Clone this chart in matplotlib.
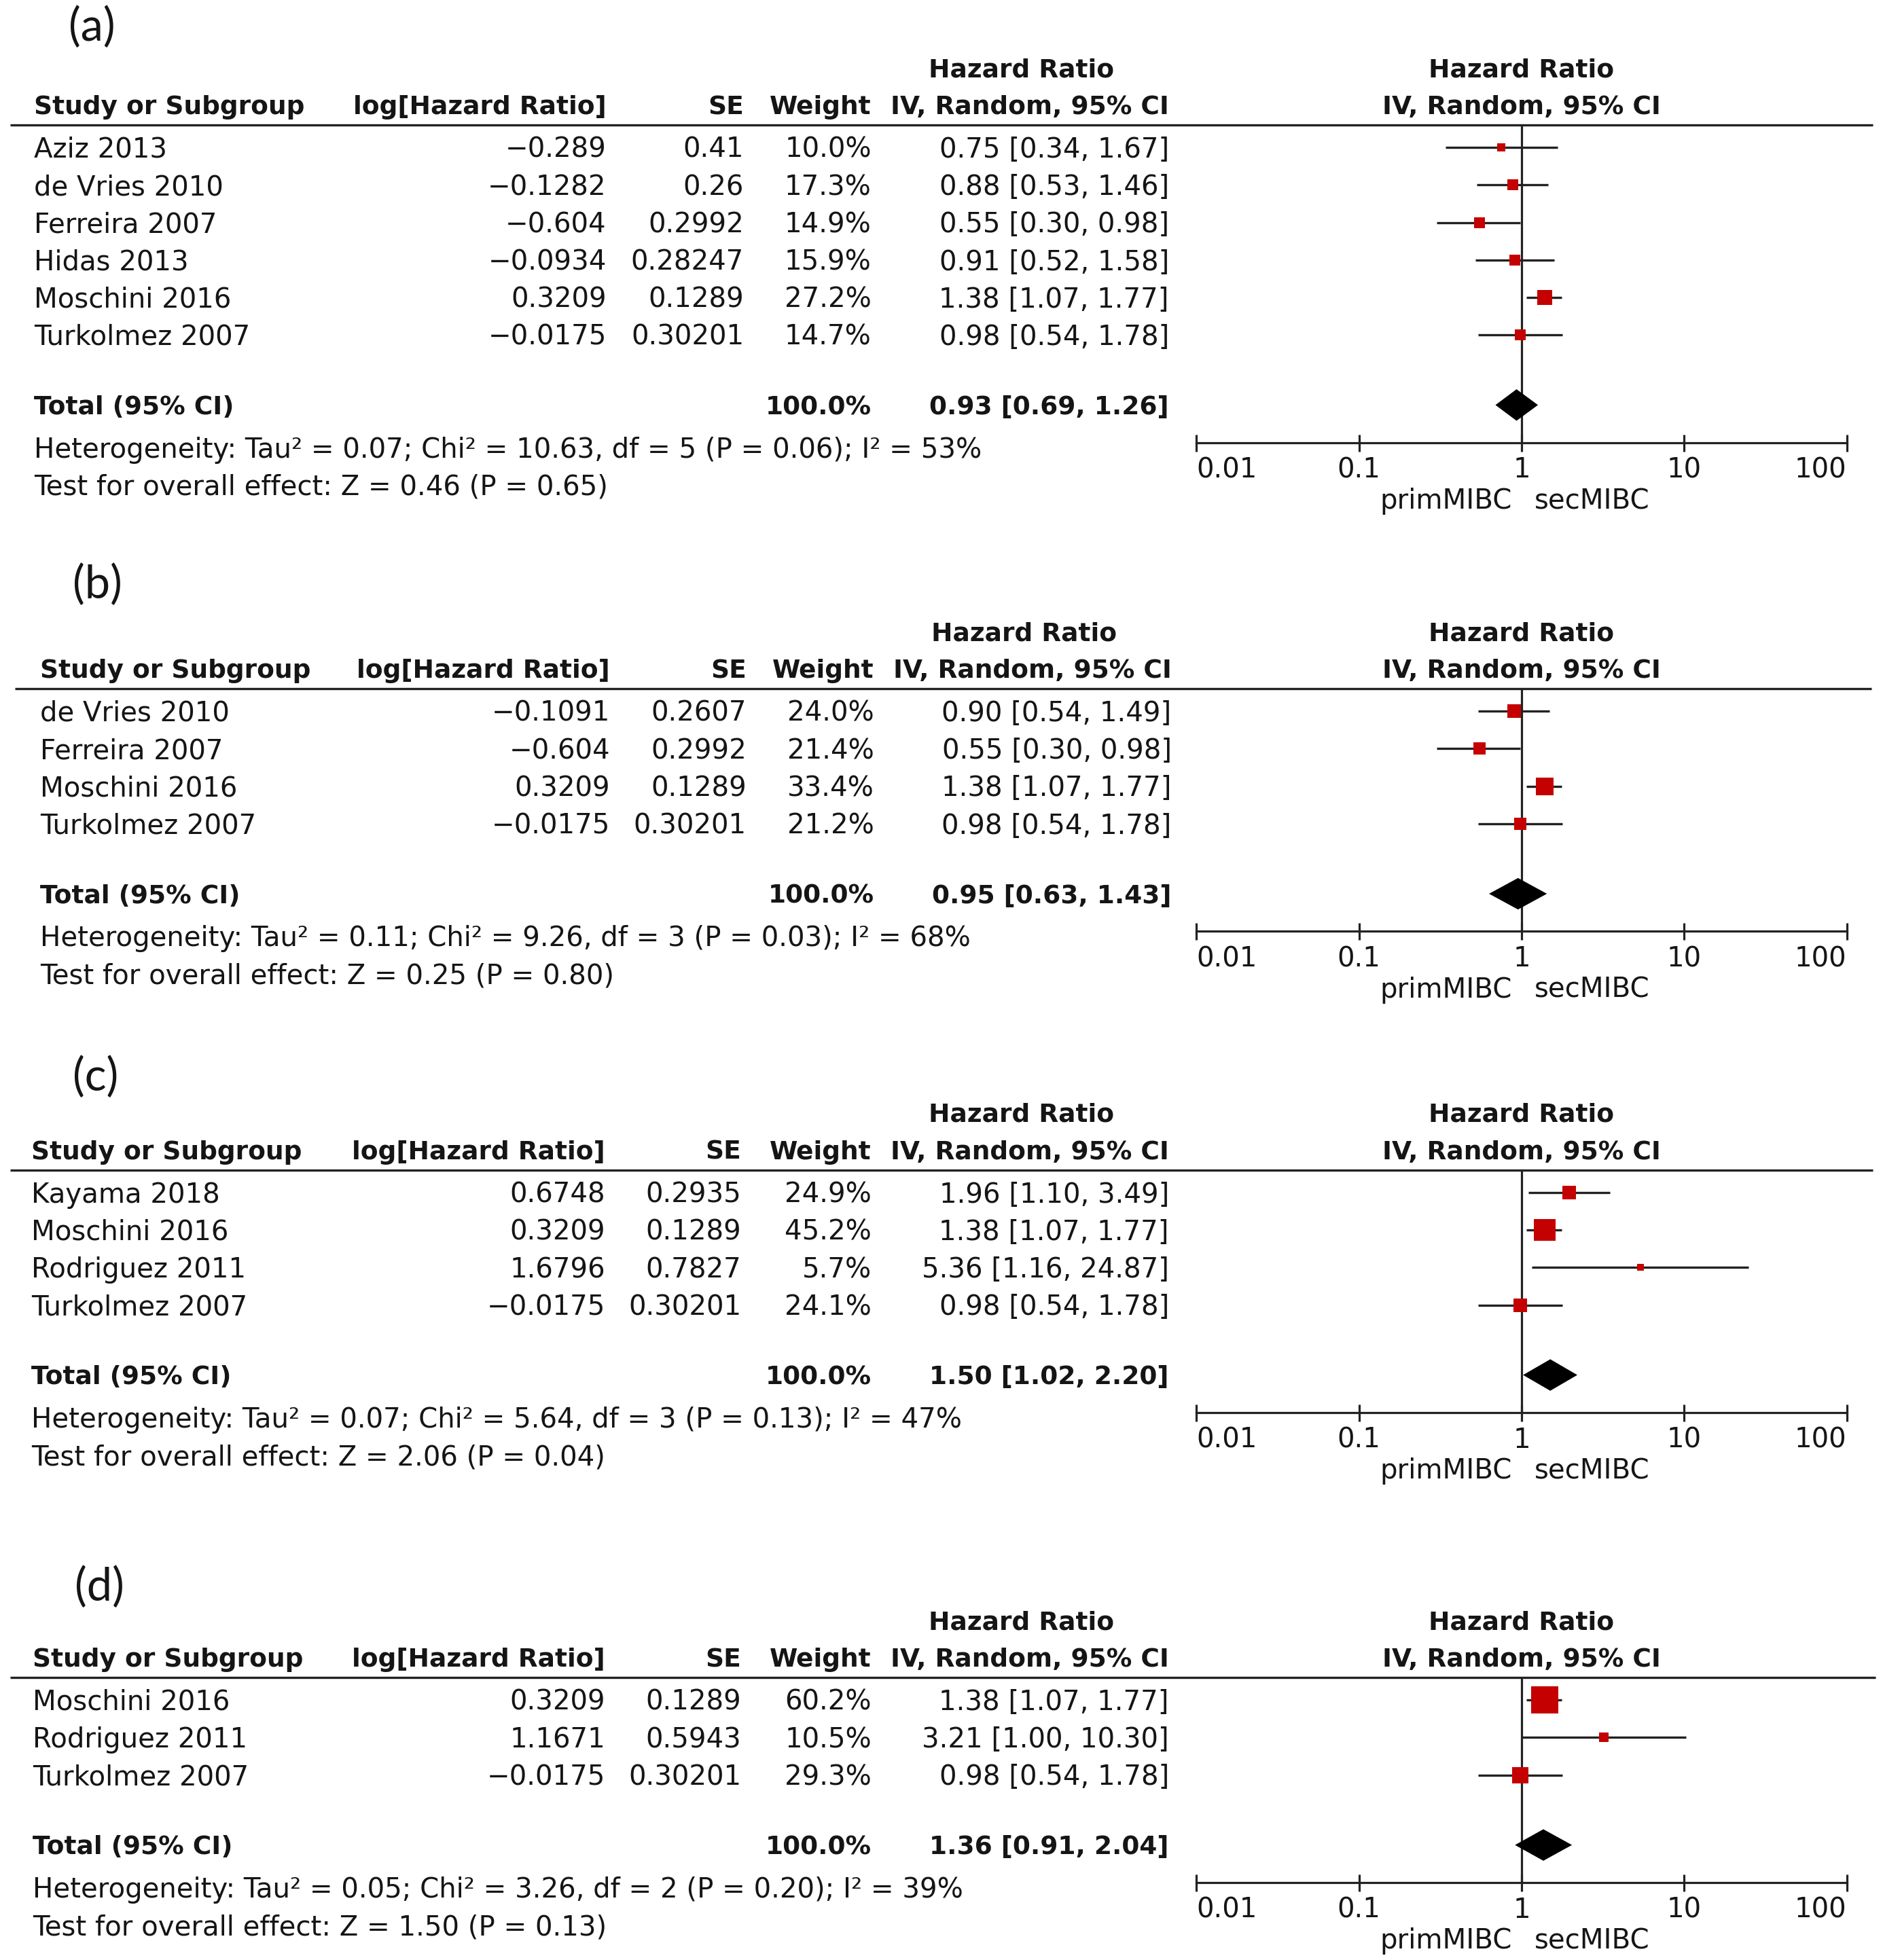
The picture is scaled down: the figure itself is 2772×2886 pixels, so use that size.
import numpy as np
import matplotlib
matplotlib.use("Agg")
import matplotlib.pyplot as plt

plt.rcParams['font.family'] = ['DejaVu Sans']

# ---------------- data ----------------
# (a)
studies_a = ['Aziz 2013', 'de Vries 2010', 'Ferreira 2007', 'Hidas 2013', 'Moschini 2016', 'Turkolmez 2007']
loghr_a = ['−0.289', '−0.1282', '−0.604', '−0.0934', '0.3209', '−0.0175']
se_a = ['0.41', '0.26', '0.2992', '0.28247', '0.1289', '0.30201']
weight_a = [10.0, 17.3, 14.9, 15.9, 27.2, 14.7]
hr_a = [0.75, 0.88, 0.55, 0.91, 1.38, 0.98]
lo_a = [0.34, 0.53, 0.30, 0.52, 1.07, 0.54]
hi_a = [1.67, 1.46, 0.98, 1.58, 1.77, 1.78]
total_a = [0.93, 0.69, 1.26]
het_a = 'Heterogeneity: Tau² = 0.07; Chi² = 10.63, df = 5 (P = 0.06); I² = 53%'
test_a = 'Test for overall effect: Z = 0.46 (P = 0.65)'

# (b)
studies_b = ['de Vries 2010', 'Ferreira 2007', 'Moschini 2016', 'Turkolmez 2007']
loghr_b = ['−0.1091', '−0.604', '0.3209', '−0.0175']
se_b = ['0.2607', '0.2992', '0.1289', '0.30201']
weight_b = [24.0, 21.4, 33.4, 21.2]
hr_b = [0.90, 0.55, 1.38, 0.98]
lo_b = [0.54, 0.30, 1.07, 0.54]
hi_b = [1.49, 0.98, 1.77, 1.78]
total_b = [0.95, 0.63, 1.43]
het_b = 'Heterogeneity: Tau² = 0.11; Chi² = 9.26, df = 3 (P = 0.03); I² = 68%'
test_b = 'Test for overall effect: Z = 0.25 (P = 0.80)'

# (c)
studies_c = ['Kayama 2018', 'Moschini 2016', 'Rodriguez 2011', 'Turkolmez 2007']
loghr_c = ['0.6748', '0.3209', '1.6796', '−0.0175']
se_c = ['0.2935', '0.1289', '0.7827', '0.30201']
weight_c = [24.9, 45.2, 5.7, 24.1]
hr_c = [1.96, 1.38, 5.36, 0.98]
lo_c = [1.10, 1.07, 1.16, 0.54]
hi_c = [3.49, 1.77, 24.87, 1.78]
total_c = [1.50, 1.02, 2.20]
het_c = 'Heterogeneity: Tau² = 0.07; Chi² = 5.64, df = 3 (P = 0.13); I² = 47%'
test_c = 'Test for overall effect: Z = 2.06 (P = 0.04)'

# (d)
studies_d = ['Moschini 2016', 'Rodriguez 2011', 'Turkolmez 2007']
loghr_d = ['0.3209', '1.1671', '−0.0175']
se_d = ['0.1289', '0.5943', '0.30201']
weight_d = [60.2, 10.5, 29.3]
hr_d = [1.38, 3.21, 0.98]
lo_d = [1.07, 1.00, 0.54]
hi_d = [1.77, 10.30, 1.78]
total_d = [1.36, 0.91, 2.04]
het_d = 'Heterogeneity: Tau² = 0.05; Chi² = 3.26, df = 2 (P = 0.20); I² = 39%'
test_d = 'Test for overall effect: Z = 1.50 (P = 0.13)'

total_weight = '100.0%'
tick_vals = [0.01, 0.1, 1, 10, 100]
tick_labels = ['0.01', '0.1', '1', '10', '100']

panels = [
    ('(a)', studies_a, loghr_a, se_a, weight_a, hr_a, lo_a, hi_a, total_a, het_a, test_a),
    ('(b)', studies_b, loghr_b, se_b, weight_b, hr_b, lo_b, hi_b, total_b, het_b, test_b),
    ('(c)', studies_c, loghr_c, se_c, weight_c, hr_c, lo_c, hi_c, total_c, het_c, test_c),
    ('(d)', studies_d, loghr_d, se_d, weight_d, hr_d, lo_d, hi_d, total_d, het_d, test_d),
]

# ---------------- layout (reference pixel grid) ----------------
W, H = 1506, 1568
# label x, label y, header line y, line x0, line x1, study x, logHR right, SE right, weight right, CI right
layout = [
    (57, 22, 100, 8, 1498, 27, 485, 595, 697, 935),
    (60, 468, 551, 12, 1497, 32, 488, 597, 699, 937),
    (60, 862, 936, 8, 1498, 25, 484, 593, 697, 935),
    (62, 1270, 1342, 8, 1500, 26, 484, 593, 697, 935),
]
plot_x0, plot_x1 = 957, 1477
ROW = 30
DY = 2
FS = 29
FSB = 27
TXT = '#151515'
RED = '#c40000'
PX2PT = 1.84 * 0.72

fig = plt.figure(figsize=(27.72, 28.86), dpi=100)
bg = fig.add_axes([0, 0, 1, 1])
bg.set_xlim(0, W)
bg.set_ylim(H, 0)
bg.axis('off')

for (tag, studies, loghr, se, weight, hr, lo, hi, total, het, test), lay in zip(panels, layout):
    lx, ly, line_y, x0, x1, sx, lr, ser, wr, cir = lay
    n = len(studies)
    row_px = [line_y + 18 + ROW * i + DY for i in range(n)]
    total_px = row_px[-1] + 56
    axis_px = line_y + 18 + ROW * (n - 1) + 56 + ROW

    # panel tag
    bg.text(lx - 2, ly, tag, fontsize=48, family='Lato', ha='left', va='center', color=TXT)

    # headers
    h1 = line_y - 46 + DY
    bg.text(cir - 118, h1, 'Hazard Ratio', fontsize=FSB, fontweight='bold', ha='center', va='center', color=TXT)
    bg.text((plot_x0 + plot_x1) / 2, h1, 'Hazard Ratio', fontsize=FSB, fontweight='bold', ha='center', va='center', color=TXT)
    hy = line_y - 16 + DY
    bg.text(sx, hy, 'Study or Subgroup', fontsize=FSB, fontweight='bold', ha='left', va='center', color=TXT)
    bg.text(lr, hy, 'log[Hazard Ratio]', fontsize=FSB, fontweight='bold', ha='right', va='center', color=TXT)
    bg.text(ser, hy, 'SE', fontsize=FSB, fontweight='bold', ha='right', va='center', color=TXT)
    bg.text(wr, hy, 'Weight', fontsize=FSB, fontweight='bold', ha='right', va='center', color=TXT)
    bg.text(cir, hy, 'IV, Random, 95% CI', fontsize=FSB, fontweight='bold', ha='right', va='center', color=TXT)
    bg.text((plot_x0 + plot_x1) / 2, hy, 'IV, Random, 95% CI', fontsize=FSB, fontweight='bold', ha='center', va='center', color=TXT)
    bg.plot([x0, x1], [line_y, line_y], color='#222222', lw=2.4, solid_capstyle='butt')

    # study rows
    for i in range(n):
        y = row_px[i]
        bg.text(sx, y, studies[i], fontsize=FS, ha='left', va='center', color=TXT)
        bg.text(lr, y, loghr[i], fontsize=FS, ha='right', va='center', color=TXT)
        bg.text(ser, y, se[i], fontsize=FS, ha='right', va='center', color=TXT)
        bg.text(wr, y, f'{weight[i]:.1f}%', fontsize=FS, ha='right', va='center', color=TXT)
        bg.text(cir, y, f'{hr[i]:.2f} [{lo[i]:.2f}, {hi[i]:.2f}]', fontsize=FS, ha='right', va='center', color=TXT)

    # total + footnotes
    bg.text(sx, total_px, 'Total (95% CI)', fontsize=FSB, fontweight='bold', ha='left', va='center', color=TXT)
    bg.text(wr, total_px, total_weight, fontsize=FSB, fontweight='bold', ha='right', va='center', color=TXT)
    bg.text(cir, total_px, f'{total[0]:.2f} [{total[1]:.2f}, {total[2]:.2f}]', fontsize=FSB, fontweight='bold',
            ha='right', va='center', color=TXT)
    bg.text(sx, total_px + 34, het, fontsize=FS, ha='left', va='center', color=TXT)
    bg.text(sx, total_px + 64, test, fontsize=FS, ha='left', va='center', color=TXT)

    # forest plot
    ax = fig.add_axes([plot_x0 / W, 1 - axis_px / H, (plot_x1 - plot_x0) / W, (axis_px - line_y) / H])
    ax.set_xscale('log')
    ax.set_xlim(0.01, 100)
    ys = np.arange(n)
    ty = n - 1 + 56 / ROW
    ax.set_ylim(ty + 1.0, -0.6)
    ax.patch.set_alpha(0)

    ax.axvline(1, color='#222222', lw=2.3, zorder=1)
    ax.hlines(ys, lo, hi, color='#222222', lw=2.4, zorder=2)
    for i in range(n):
        ms = (7.3 + 0.543 * weight[i]) * 0.72
        ax.plot(hr[i], ys[i], marker='s', ms=ms, color=RED, mew=0, zorder=3)
    t, tl, th = total
    ax.fill([tl, t, th, t], [ty, ty - 0.42, ty, ty + 0.42], color='black', lw=0, zorder=3)

    for s in ['top', 'left', 'right']:
        ax.spines[s].set_visible(False)
    ax.spines['bottom'].set_linewidth(2.3)
    ax.spines['bottom'].set_color('#222222')
    ax.set_yticks([])
    ax.set_xticks(tick_vals, tick_labels)
    ax.minorticks_off()
    ax.tick_params(axis='x', direction='inout', length=18, width=2.3, color='#222222',
                   labelsize=FS, labelcolor=TXT, pad=6)
    labs = ax.get_xticklabels()
    labs[0].set_ha('left')
    labs[-1].set_ha('right')

    ax.annotate('primMIBC', xy=(1, 0), xycoords=('data', 'axes fraction'),
                xytext=(-8 * PX2PT, -47 * PX2PT), textcoords='offset points',
                ha='right', va='center', fontsize=FS, color=TXT)
    ax.annotate('secMIBC', xy=(1, 0), xycoords=('data', 'axes fraction'),
                xytext=(10 * PX2PT, -47 * PX2PT), textcoords='offset points',
                ha='left', va='center', fontsize=FS, color=TXT)

fig.savefig('out.png', dpi=100)
